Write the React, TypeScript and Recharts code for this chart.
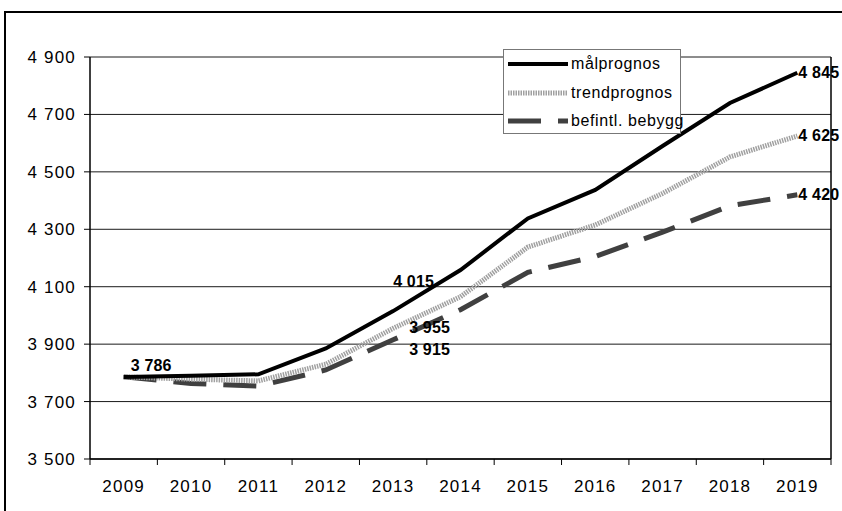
import React from 'react';
import { LineChart, Line, XAxis, YAxis, CartesianGrid, LabelList, ReferenceLine } from 'recharts';

const years = ['2009', '2010', '2011', '2012', '2013', '2014', '2015', '2016', '2017', '2018', '2019'];
const malprognos = [3786, 3790, 3795, 3885, 4015, 4158, 4338, 4437, 4590, 4740, 4845];
const trendprognos = [3786, 3778, 3772, 3830, 3955, 4065, 4238, 4315, 4425, 4552, 4625];
const befintl = [3786, 3763, 3754, 3810, 3915, 4020, 4150, 4205, 4290, 4382, 4420];
const yTicks = [3500, 3700, 3900, 4100, 4300, 4500, 4700, 4900];
const seriesNames = ['målprognos', 'trendprognos', 'befintl. bebygg'];

const data = years.map((y, i) => ({ i, year: y, mal: malprognos[i], trend: trendprognos[i], bef: befintl[i] }));

const fmt = (v: number) => `${Math.floor(v / 1000)} ${String(v % 1000).padStart(3, '0')}`;

const FONT = '"Liberation Sans", Arial, sans-serif';
const W = 842;
const H = 511;
const M = { top: 57, right: 11, bottom: 22, left: 0 };
const YW = 90;
const BAND = (W - M.right - YW) / years.length;

const XTick = (props: any) => {
  const { x, y, payload, index } = props;
  const half = BAND / 2;
  return (
    <g>
      <line x1={x - half} x2={x - half} y1={y} y2={y + 6} stroke="#000" strokeWidth={1} />
      {index === years.length - 1 && (
        <line x1={x + half} x2={x + half} y1={y} y2={y + 6} stroke="#000" strokeWidth={1} />
      )}
      <text x={x} y={y + 33} textAnchor="middle" fontSize={17} letterSpacing={1.2} fontFamily={FONT} fill="#000">
        {years[payload.value]}
      </text>
    </g>
  );
};

const labelOffsets: Record<string, Record<number, [number, number]>> = {
  mal: { 0: [7, -6], 4: [0, -24], 10: [1, 5] },
  trend: { 4: [16, 5], 10: [1, 5] },
  bef: { 4: [16, 15], 10: [1, 5] },
};

const makeLabel = (key: string) => (props: any) => {
  const { x, y, value, index } = props;
  const off = labelOffsets[key][index];
  if (!off) return null;
  return (
    <text x={x + off[0]} y={y + off[1]} fontSize={16} fontWeight="bold" letterSpacing={0.2} fontFamily={FONT} fill="#000">
      {fmt(value)}
    </text>
  );
};

const legendItems = [
  { name: seriesNames[0], stroke: '#000', width: 4, dash: undefined as string | undefined },
  { name: seriesNames[1], stroke: '#a0a0a0', width: 5, dash: '1.5 1' },
  { name: seriesNames[2], stroke: '#404040', width: 5, dash: '33 17' },
];

const LegendBox = () => (
  <div
    style={{
      position: 'absolute',
      left: 503,
      top: 49,
      width: 178,
      height: 85,
      border: '1px solid #777',
      background: '#fff',
      boxSizing: 'border-box',
      fontFamily: FONT,
      fontSize: 16,
    }}
  >
    {legendItems.map((it, k) => (
      <div key={k} style={{ position: 'absolute', left: 0, top: 4 + k * 28.5, height: 20, display: 'flex', alignItems: 'center', whiteSpace: 'nowrap' }}>
        <svg width={62} height={20} style={{ marginLeft: 3 }}>
          <line x1={1} x2={61} y1={10} y2={10} stroke={it.stroke} strokeWidth={it.width} strokeDasharray={it.dash} />
        </svg>
        <span style={{ marginLeft: 2, color: '#000', letterSpacing: 0.6 }}>{it.name}</span>
      </div>
    ))}
  </div>
);

export default function App() {
  return (
    <div style={{ position: 'fixed', left: 0, top: 0, width: W, height: H, overflow: 'hidden', background: '#fff' }}>
      <div style={{ position: 'absolute', left: 4, top: 11, width: 900, height: 600, border: '2px solid #000' }} />
      <div style={{ position: 'absolute', left: 0, top: 0 }}>
        <LineChart width={W} height={H} data={data} margin={M}>
          <CartesianGrid vertical={false} stroke="#1a1a1a" strokeWidth={1} />
          <XAxis
            dataKey="i"
            type="number"
            domain={[-0.5, 10.5]}
            ticks={[0, 1, 2, 3, 4, 5, 6, 7, 8, 9, 10]}
            tick={<XTick />}
            tickLine={false}
            tickSize={0}
            tickMargin={0}
            axisLine={{ stroke: '#000', strokeWidth: 1.5 }}
            height={30}
            interval={0}
          />
          <YAxis
            type="number"
            domain={[3500, 4900]}
            ticks={yTicks}
            tickFormatter={fmt}
            width={YW}
            tickSize={6}
            tickMargin={8}
            interval={0}
            axisLine={{ stroke: '#000', strokeWidth: 1.5 }}
            tickLine={{ stroke: '#000' }}
            tick={{ fontSize: 17, fill: '#000', fontFamily: FONT, letterSpacing: 1.2 }}
          />
          <ReferenceLine x={10.5} stroke="#000" strokeWidth={1.5} />
          <Line dataKey="bef" name={seriesNames[2]} stroke="#404040" strokeWidth={5} strokeDasharray="33 17" dot={false} isAnimationActive={false}>
            <LabelList dataKey="bef" content={makeLabel('bef')} />
          </Line>
          <Line dataKey="trend" name={seriesNames[1]} stroke="#a0a0a0" strokeWidth={5} strokeDasharray="1.5 1" dot={false} isAnimationActive={false}>
            <LabelList dataKey="trend" content={makeLabel('trend')} />
          </Line>
          <Line dataKey="mal" name={seriesNames[0]} stroke="#000" strokeWidth={4} dot={false} isAnimationActive={false}>
            <LabelList dataKey="mal" content={makeLabel('mal')} />
          </Line>
        </LineChart>
      </div>
      <LegendBox />
    </div>
  );
}
